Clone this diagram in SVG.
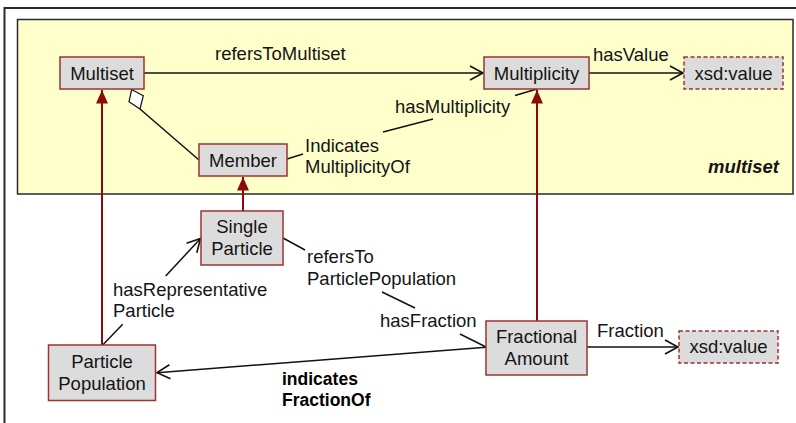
<svg xmlns="http://www.w3.org/2000/svg" width="796" height="423" viewBox="0 0 796 423">
<style>
text{font-family:"Liberation Sans",Arial,sans-serif;font-size:18.5px;fill:#141414}
.c{text-anchor:middle}
.node{fill:#dcdcdc;stroke:#a03232;stroke-width:1.5}
.dt{fill:#dcdcdc;stroke:#a03232;stroke-width:1.5;stroke-dasharray:4 2.5}
.ln{fill:none;stroke:#111;stroke-width:1.5}
.inh{fill:none;stroke:#8b0a0a;stroke-width:2}
.b{font-weight:bold;font-size:17.5px;fill:#000}
</style>
<defs>
<marker id="open" markerUnits="userSpaceOnUse" markerWidth="20" markerHeight="20" viewBox="-15 -10 20 20" refX="0" refY="0" orient="auto">
<path d="M-13,-7 L0,0 L-13,7" fill="none" stroke="#111" stroke-width="1.6"/>
</marker>
<marker id="tri" markerUnits="userSpaceOnUse" markerWidth="20" markerHeight="20" viewBox="-15 -10 20 20" refX="0" refY="0" orient="auto">
<path d="M0,0 L-13.5,-6 L-13.5,6 Z" fill="#8b0a0a"/>
</marker>
</defs>
<rect x="4.5" y="8" width="800" height="430" fill="#fff" stroke="#2a2a2a" stroke-width="2"/>
<rect id="package-multiset" x="17.5" y="19.5" width="775.5" height="174.5" fill="#ffffcc" stroke="#2a2a2a" stroke-width="1.5"/>
<text x="779" y="173" style="font-weight:bold;font-style:italic;text-anchor:end">multiset</text>
<g id="connectors">
<line class="ln" x1="144" y1="73" x2="483" y2="73" marker-end="url(#open)"/>
<line class="ln" x1="589" y1="73" x2="683" y2="73" marker-end="url(#open)"/>
<polygon points="131.7,89.5 143.3,95.7 140,109 129,101.7" fill="#fff" stroke="#111" stroke-width="1.2"/>
<line class="ln" x1="140" y1="109" x2="199" y2="160"/>
<line class="ln" x1="287" y1="159" x2="303" y2="154"/>
<line class="ln" x1="383" y1="132" x2="433" y2="119"/>
<line class="ln" x1="515" y1="95.5" x2="537" y2="89"/>
<line class="inh" x1="102" y1="345" x2="102" y2="90" marker-end="url(#tri)"/>
<line class="inh" x1="243" y1="211" x2="243" y2="177" marker-end="url(#tri)"/>
<line class="inh" x1="537" y1="321" x2="537" y2="90" marker-end="url(#tri)"/>
<line class="ln" x1="102.7" y1="345" x2="122.7" y2="324.3"/>
<line class="ln" x1="165.7" y1="276" x2="200.5" y2="238.5" marker-end="url(#open)"/>
<line class="ln" x1="283" y1="238" x2="305" y2="250"/>
<line class="ln" x1="382" y1="292" x2="415" y2="308"/>
<line class="ln" x1="460" y1="334" x2="486" y2="347"/>
<line class="ln" x1="486" y1="347.3" x2="157" y2="372.7" marker-end="url(#open)"/>
<line class="ln" x1="587" y1="347" x2="678" y2="347" marker-end="url(#open)"/>
</g>
<g id="labels">
<text x="215" y="60">refersToMultiset</text>
<text x="593" y="61">hasValue</text>
<text x="395" y="113">hasMultiplicity</text>
<text x="305" y="152">Indicates</text>
<text x="305" y="173">MultiplicityOf</text>
<text x="113" y="296">hasRepresentative</text>
<text x="113" y="317">Particle</text>
<text x="307" y="263">refersTo</text>
<text x="307" y="285">ParticlePopulation</text>
<text x="380" y="327">hasFraction</text>
<text x="597" y="337">Fraction</text>
<text class="b" x="282" y="385">indicates</text>
<text class="b" x="282" y="406">FractionOf</text>
</g>
<g id="Multiset"><rect class="node" x="60" y="57" width="84" height="32"/><text class="c" x="102" y="80">Multiset</text></g>
<g id="Member"><rect class="node" x="199" y="144" width="88" height="32"/><text class="c" x="243" y="167">Member</text></g>
<g id="Multiplicity"><rect class="node" x="484" y="57" width="105" height="32"/><text class="c" x="536.5" y="80">Multiplicity</text></g>
<g id="xsd-value-1"><rect class="dt" x="684" y="57" width="99" height="32"/><text class="c" x="733.5" y="80">xsd:value</text></g>
<g id="SingleParticle"><rect class="node" x="201" y="211" width="82" height="54"/><text class="c" x="242" y="233">Single</text><text class="c" x="242" y="255">Particle</text></g>
<g id="ParticlePopulation"><rect class="node" x="48.5" y="345" width="107" height="55.5"/><text class="c" x="102" y="368">Particle</text><text class="c" x="102" y="390">Population</text></g>
<g id="FractionalAmount"><rect class="node" x="486" y="321" width="101" height="54"/><text class="c" x="536.5" y="343">Fractional</text><text class="c" x="536.5" y="365">Amount</text></g>
<g id="xsd-value-2"><rect class="dt" x="679" y="331" width="99" height="32"/><text class="c" x="728.5" y="353">xsd:value</text></g>
</svg>
